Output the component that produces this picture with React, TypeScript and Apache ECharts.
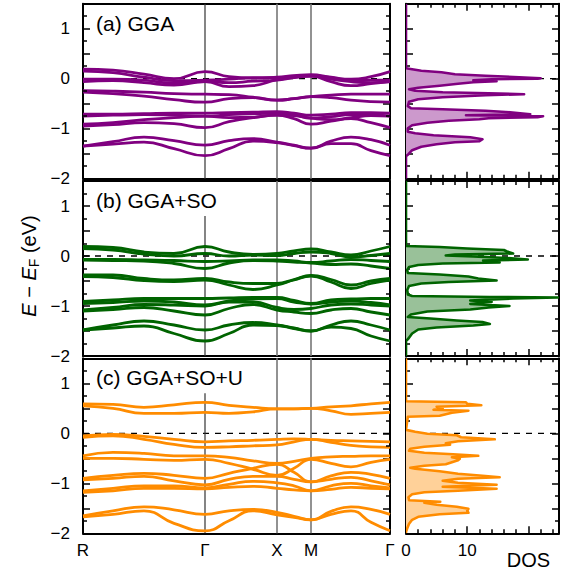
import React, { useEffect, useRef } from 'react';
import * as echarts from 'echarts';

// k-path sample positions (path length units) and high-symmetry nodes
const kSamples = [0, 30, 61, 91, 122, 146, 170, 194, 211, 228, 248, 268, 288, 307];
const kNodes = [0, 122, 194, 228, 307];
const kNodeLabels = ['R', 'Γ', 'X', 'M', 'Γ'];

// Minor tick positions on the frames
const energyMinorTicks = [-1.75, -1.25, -0.75, -0.25, 0.25, 0.75, 1.25];
const dosMinorTicks = [2, 4, 6, 8, 12, 14, 16, 18, 22, 24];

// Band energies (eV, relative to E_F) at each k sample
const bandsGGA = [
  [0.19, 0.17, 0.09, 0.0, 0.14, 0.04, 0.01, 0.03, 0.06, 0.08, 0.03, -0.01, 0.04, 0.14],
  [0.15, 0.12, 0.03, -0.04, -0.03, -0.01, 0.02, 0.02, 0.05, 0.06, 0.02, -0.04, -0.03, -0.03],
  [-0.01, -0.01, -0.03, -0.09, -0.06, -0.16, -0.14, -0.02, 0.03, 0.05, -0.06, -0.14, -0.1, -0.06],
  [-0.06, -0.04, -0.08, -0.13, -0.06, -0.08, -0.05, -0.03, 0.02, 0.05, -0.01, -0.06, -0.08, -0.06],
  [-0.24, -0.25, -0.27, -0.3, -0.31, -0.32, -0.37, -0.43, -0.4, -0.36, -0.33, -0.31, -0.31, -0.31],
  [-0.27, -0.3, -0.35, -0.42, -0.47, -0.4, -0.38, -0.43, -0.4, -0.36, -0.38, -0.43, -0.46, -0.47],
  [-0.71, -0.71, -0.7, -0.69, -0.69, -0.68, -0.67, -0.66, -0.69, -0.73, -0.71, -0.68, -0.68, -0.69],
  [-0.75, -0.73, -0.72, -0.73, -0.75, -0.72, -0.7, -0.69, -0.72, -0.79, -0.76, -0.72, -0.72, -0.75],
  [-0.91, -0.88, -0.82, -0.78, -0.75, -0.78, -0.77, -0.73, -0.74, -0.79, -0.82, -0.78, -0.74, -0.75],
  [-0.95, -0.92, -0.88, -0.9, -0.98, -0.86, -0.78, -0.73, -0.8, -0.91, -0.85, -0.8, -0.88, -0.98],
  [-1.35, -1.26, -1.17, -1.24, -1.33, -1.24, -1.2, -1.27, -1.33, -1.39, -1.25, -1.17, -1.22, -1.33],
  [-1.35, -1.31, -1.27, -1.4, -1.54, -1.4, -1.25, -1.28, -1.34, -1.39, -1.3, -1.3, -1.44, -1.54],
];

const bandsGGASO = [
  [0.19, 0.17, 0.08, 0.05, 0.19, 0.08, 0.03, 0.05, 0.1, 0.14, 0.08, 0.02, 0.1, 0.19],
  [0.15, 0.12, 0.04, 0.0, 0.05, 0.0, 0.02, 0.01, 0.05, 0.08, 0.05, -0.02, 0.01, 0.05],
  [-0.07, -0.07, -0.08, -0.09, -0.11, -0.1, -0.08, -0.08, -0.1, -0.13, -0.1, -0.07, -0.09, -0.11],
  [-0.08, -0.09, -0.1, -0.15, -0.25, -0.14, -0.09, -0.1, -0.12, -0.14, -0.17, -0.16, -0.2, -0.25],
  [-0.38, -0.38, -0.45, -0.48, -0.45, -0.52, -0.55, -0.55, -0.47, -0.39, -0.47, -0.58, -0.5, -0.45],
  [-0.41, -0.43, -0.49, -0.51, -0.48, -0.58, -0.67, -0.58, -0.48, -0.4, -0.52, -0.65, -0.55, -0.48],
  [-0.91, -0.88, -0.85, -0.85, -0.85, -0.84, -0.83, -0.83, -0.89, -0.95, -0.88, -0.86, -0.85, -0.85],
  [-0.95, -0.93, -0.9, -0.92, -0.98, -0.9, -0.86, -0.85, -0.92, -0.96, -0.92, -0.9, -0.93, -0.98],
  [-1.08, -1.03, -0.97, -0.98, -1.0, -0.92, -0.92, -1.03, -1.07, -1.05, -0.98, -0.96, -0.98, -1.0],
  [-1.1, -1.07, -1.03, -1.1, -1.18, -1.05, -0.97, -1.08, -1.12, -1.15, -1.08, -1.05, -1.12, -1.18],
  [-1.48, -1.38, -1.3, -1.38, -1.48, -1.38, -1.33, -1.38, -1.44, -1.5, -1.38, -1.3, -1.38, -1.48],
  [-1.48, -1.44, -1.4, -1.55, -1.7, -1.55, -1.38, -1.39, -1.45, -1.5, -1.42, -1.45, -1.6, -1.7],
];

const bandsGGASOU = [
  [0.59, 0.58, 0.52, 0.57, 0.62, 0.56, 0.52, 0.49, 0.49, 0.5, 0.53, 0.55, 0.59, 0.62],
  [0.55, 0.5, 0.4, 0.4, 0.42, 0.4, 0.43, 0.49, 0.49, 0.5, 0.45, 0.38, 0.4, 0.42],
  [-0.05, -0.02, -0.06, -0.12, -0.17, -0.15, -0.14, -0.12, -0.11, -0.12, -0.14, -0.15, -0.16, -0.17],
  [-0.08, -0.05, -0.12, -0.22, -0.28, -0.27, -0.25, -0.23, -0.17, -0.12, -0.18, -0.24, -0.27, -0.28],
  [-0.45, -0.38, -0.4, -0.45, -0.45, -0.48, -0.55, -0.6, -0.56, -0.5, -0.47, -0.46, -0.45, -0.45],
  [-0.5, -0.5, -0.52, -0.54, -0.52, -0.6, -0.72, -0.84, -0.7, -0.52, -0.6, -0.67, -0.58, -0.52],
  [-0.9, -0.84, -0.8, -0.84, -0.9, -0.8, -0.7, -0.62, -0.78, -0.97, -0.85, -0.78, -0.82, -0.9],
  [-0.93, -0.9, -0.86, -0.95, -1.03, -0.92, -0.86, -0.86, -0.92, -0.97, -0.92, -0.88, -0.95, -1.03],
  [-1.15, -1.1, -1.05, -1.05, -1.09, -1.02, -0.96, -0.99, -1.05, -1.15, -1.05, -1.0, -1.05, -1.09],
  [-1.18, -1.15, -1.1, -1.1, -1.11, -1.08, -1.06, -1.1, -1.13, -1.15, -1.12, -1.08, -1.1, -1.11],
  [-1.65, -1.55, -1.47, -1.53, -1.62, -1.55, -1.52, -1.58, -1.66, -1.73, -1.56, -1.47, -1.52, -1.62],
  [-1.67, -1.62, -1.55, -1.8, -1.95, -1.75, -1.55, -1.63, -1.68, -1.73, -1.62, -1.55, -1.78, -1.95],
];

// Density of states: [energy (eV), DOS (states/eV)]
const dosGGA = [
  [1.5, 0], [0.21, 0], [0.19, 1.0], [0.16, 2.5], [0.13, 5.8], [0.09, 8.0], [0.06, 13.0], [0.03, 18.5],
  [0.01, 22.0], [0.0, 21.5], [-0.01, 14.0], [-0.03, 11.0], [-0.05, 14.8], [-0.07, 11.0], [-0.1, 8.5],
  [-0.14, 5.5], [-0.18, 2.0], [-0.21, 0.5], [-0.24, 1.5], [-0.27, 6.0], [-0.29, 13.5], [-0.31, 19.3],
  [-0.33, 13.0], [-0.37, 6.0], [-0.41, 2.0], [-0.46, 0.5], [-0.55, 0.3], [-0.59, 0.8], [-0.61, 6.0],
  [-0.64, 13.0], [-0.67, 17.0], [-0.71, 20.3], [-0.73, 9.8], [-0.75, 22.4], [-0.77, 21.5], [-0.79, 13.5],
  [-0.81, 12.0], [-0.84, 7.0], [-0.88, 3.5], [-0.93, 1.0], [-0.99, 0.3], [-1.06, 0.3], [-1.09, 1.5],
  [-1.13, 4.5], [-1.17, 10.5], [-1.21, 12.5], [-1.25, 12.0], [-1.27, 8.0], [-1.31, 5.0], [-1.36, 2.5],
  [-1.43, 1.0], [-1.51, 0.4], [-1.55, 0], [-2, 0],
];

const dosGGASO = [
  [1.5, 0], [0.2, 0], [0.18, 5.5], [0.15, 10.0], [0.12, 16.0], [0.09, 16.5], [0.05, 17.5], [0.03, 8.0],
  [0.01, 6.5], [-0.01, 11.0], [-0.04, 16.5], [-0.07, 19.9], [-0.09, 12.6], [-0.13, 15.3], [-0.15, 6.0],
  [-0.18, 2.0], [-0.22, 0.5], [-0.28, 0.2], [-0.34, 0.3], [-0.37, 5.5], [-0.41, 10.2], [-0.45, 11.8],
  [-0.49, 14.8], [-0.52, 7.0], [-0.55, 2.5], [-0.6, 0.5], [-0.68, 0.2], [-0.77, 0.3], [-0.8, 1.0],
  [-0.82, 13.7], [-0.83, 24.8], [-0.85, 17.5], [-0.89, 10.5], [-0.92, 14.0], [-0.96, 10.5], [-1.0, 16.9],
  [-1.03, 13.5], [-1.07, 10.5], [-1.11, 3.5], [-1.17, 0.8], [-1.22, 0.3], [-1.25, 4.0], [-1.29, 8.3],
  [-1.32, 12.5], [-1.36, 13.7], [-1.39, 11.0], [-1.43, 5.0], [-1.47, 2.0], [-1.55, 1.0], [-1.65, 0.4],
  [-1.7, 0], [-2, 0],
];

const dosGGASOU = [
  [1.5, 0], [0.64, 0], [0.62, 9.8], [0.59, 10.0], [0.56, 12.3], [0.53, 5.0], [0.5, 6.0], [0.47, 4.5],
  [0.45, 10.2], [0.41, 7.5], [0.38, 6.5], [0.35, 5.5], [0.33, 0.3], [0.07, 0], [0.03, 1.5], [-0.01, 3.5],
  [-0.04, 8.3], [-0.08, 9.0], [-0.12, 14.5], [-0.16, 8.5], [-0.2, 6.5], [-0.23, 7.2], [-0.27, 3.0],
  [-0.31, 0.7], [-0.35, 0.5], [-0.39, 3.0], [-0.42, 7.7], [-0.45, 11.8], [-0.48, 7.5], [-0.51, 8.8],
  [-0.54, 8.5], [-0.58, 7.5], [-0.62, 6.5], [-0.65, 3.0], [-0.69, 0.7], [-0.71, 1.5], [-0.76, 5.5],
  [-0.81, 8.5], [-0.85, 12.5], [-0.88, 15.3], [-0.91, 8.5], [-0.95, 6.0], [-0.99, 8.5], [-1.03, 14.8],
  [-1.07, 6.0], [-1.11, 14.8], [-1.15, 8.5], [-1.18, 3.0], [-1.22, 1.0], [-1.28, 0.4], [-1.34, 0.5],
  [-1.37, 5.6], [-1.39, 3.0], [-1.43, 5.0], [-1.47, 8.3], [-1.51, 10.2], [-1.55, 10.0], [-1.59, 10.2],
  [-1.62, 5.5], [-1.67, 2.0], [-1.73, 1.0], [-1.81, 0.5], [-1.9, 0.2], [-1.97, 0], [-2, 0],
];

const panelTitles = ['(a) GGA', '(b) GGA+SO', '(c) GGA+SO+U'];
const panelBands = [bandsGGA, bandsGGASO, bandsGGASOU];
const panelDos = [dosGGA, dosGGASO, dosGGASOU];
const gammaLineTop = [1.5, 0.8, 0.8];

const lineColors = ['#800080', '#006400', '#ff8c00'];
const fillColors = ['#cc99cc', '#99c199', '#ffd199'];

const FONT = '"Liberation Sans", Arial, Helvetica, sans-serif';
const E_MIN = -2;
const E_MAX = 1.5;
const K_MAX = 307;
const DOS_MAX = 25;

const panelTops = [3.7, 181, 358.3];
const panelHeight = 175;
const bandWidthPx = 307;
const dosWidthPx = 153;
const MAJOR_LEN = 7;
const MINOR_LEN = 4;
const TICK_WIDTH = 1.5;

const energyLabel = (v: number) => {
  if (Math.abs(v - Math.round(v)) > 1e-6) return '';
  const r = Math.round(v);
  return r < 0 ? '\u2212' + Math.abs(r) : String(r);
};

// short inward segments on the left/right frame edges (length given in px)
function energyTickSegments(values: number[], xMax: number, widthPx: number, lenPx: number) {
  const dx = (lenPx / widthPx) * xMax;
  const segs: any[] = [];
  values.forEach((v) => {
    segs.push({ coords: [[0, v], [dx, v]] });
    segs.push({ coords: [[xMax - dx, v], [xMax, v]] });
  });
  return segs;
}

// short inward segments on the top/bottom frame edges of a DOS panel
function dosTickSegments(values: number[], lenPx: number) {
  const dy = (lenPx / panelHeight) * (E_MAX - E_MIN);
  const segs: any[] = [];
  values.forEach((v) => {
    segs.push({ coords: [[v, E_MIN], [v, E_MIN + dy]] });
    segs.push({ coords: [[v, E_MAX - dy], [v, E_MAX]] });
  });
  return segs;
}

function buildOption() {
  const grid: any[] = [];
  const xAxis: any[] = [];
  const yAxis: any[] = [];
  const series: any[] = [];
  const graphic: any[] = [];

  const frameLine = () => ({ show: true, onZero: false, lineStyle: { color: '#000', width: 2 } });
  const majorTick = () => ({
    show: true, inside: true, length: MAJOR_LEN, lineStyle: { color: '#000', width: TICK_WIDTH },
  });

  for (let p = 0; p < 3; p++) {
    const top = panelTops[p];
    const isLast = p === 2;
    const gBand = 2 * p;
    const gDos = 2 * p + 1;

    grid.push({ left: 83, top, width: bandWidthPx, height: panelHeight });
    grid.push({ left: 406, top, width: dosWidthPx, height: panelHeight });

    // band-structure panel axes
    xAxis.push({
      gridIndex: gBand, type: 'value', min: 0, max: K_MAX, position: 'bottom',
      axisLine: frameLine(), axisTick: { show: false }, splitLine: { show: false },
      axisLabel: {
        show: isLast, customValues: kNodes, margin: 9, fontSize: 17, color: '#000', fontFamily: FONT,
        formatter: (v: number) => {
          const i = kNodes.indexOf(v);
          return i >= 0 ? kNodeLabels[i] : '';
        },
      },
    });
    xAxis.push({
      gridIndex: gBand, type: 'value', min: 0, max: K_MAX, position: 'top',
      axisLine: frameLine(), axisTick: { show: false }, axisLabel: { show: false },
      splitLine: { show: false },
    });

    // DOS panel axes
    const dosX = (pos: string, labels: boolean) => ({
      gridIndex: gDos, type: 'value', min: 0, max: DOS_MAX, interval: 10, position: pos,
      axisLine: frameLine(), splitLine: { show: false }, axisTick: majorTick(),
      axisLabel: {
        show: labels, margin: 9, fontSize: 17, color: '#000', fontFamily: FONT,
        formatter: (v: number) => (v === 0 ? '0' : v === 10 ? '10' : v === 20 ? '{d|DOS}' : ''),
        rich: { d: { fontSize: 20, fontFamily: FONT, color: '#000', padding: [8, 0, 0, 0] } },
      },
    });
    xAxis.push(dosX('bottom', isLast));
    xAxis.push(dosX('top', false));

    const yAx = (g: number, pos: string, labels: boolean) => ({
      gridIndex: g, type: 'value', min: E_MIN, max: E_MAX, interval: 0.5, position: pos,
      axisLine: frameLine(), splitLine: { show: false }, axisTick: majorTick(),
      axisLabel: {
        show: labels, margin: 13, fontSize: 17, color: '#000', fontFamily: FONT, formatter: energyLabel,
      },
    });
    yAxis.push(yAx(gBand, 'left', true));
    yAxis.push(yAx(gBand, 'right', false));
    yAxis.push(yAx(gDos, 'left', false));
    yAxis.push(yAx(gDos, 'right', false));

    const bandAx = { xAxisIndex: 2 * gBand, yAxisIndex: 2 * gBand };
    const dosAx = { xAxisIndex: 2 * gDos, yAxisIndex: 2 * gDos };

    // minor frame ticks
    series.push({
      type: 'lines', coordinateSystem: 'cartesian2d', ...bandAx, silent: true, z: 5, polyline: false,
      data: energyTickSegments(energyMinorTicks, K_MAX, bandWidthPx, MINOR_LEN),
      lineStyle: { color: '#000', width: TICK_WIDTH, opacity: 1, curveness: 0 },
    });
    series.push({
      type: 'lines', coordinateSystem: 'cartesian2d', ...dosAx, silent: true, z: 1, polyline: false,
      data: [
        ...energyTickSegments(energyMinorTicks, DOS_MAX, dosWidthPx, MINOR_LEN),
        ...dosTickSegments(dosMinorTicks, MINOR_LEN),
      ],
      lineStyle: { color: '#000', width: TICK_WIDTH, opacity: 1, curveness: 0 },
    });

    // Fermi level
    series.push({
      type: 'line', ...bandAx, data: [[0, 0], [K_MAX, 0]], symbol: 'none', silent: true, z: 1,
      lineStyle: { color: '#000', width: 1.3, type: [6, 6] },
    });
    series.push({
      type: 'line', ...dosAx, data: [[0, 0], [DOS_MAX, 0]], symbol: 'none', silent: true, z: 1,
      lineStyle: { color: '#000', width: 1.3, type: [6, 6] },
    });

    // high-symmetry verticals
    [1, 2, 3].forEach((ni) => {
      const k = kNodes[ni];
      const isGamma = kNodeLabels[ni] === 'Γ';
      series.push({
        type: 'line', ...bandAx, symbol: 'none', silent: true, z: 1,
        data: [[k, E_MIN], [k, isGamma ? gammaLineTop[p] : E_MAX]],
        lineStyle: { color: isGamma ? '#333' : '#777', width: isGamma ? 1.2 : 1.6 },
      });
    });

    // bands
    panelBands[p].forEach((band) => {
      series.push({
        type: 'line', ...bandAx, symbol: 'none', silent: true, z: 2, smooth: 0.5,
        data: kSamples.map((k, i) => [k, band[i]]),
        lineStyle: { color: lineColors[p], width: 2.8 },
      });
    });

    // DOS filled outline
    const dosData = panelDos[p].map(([e, d]) => [d, e]);
    series.push({
      type: 'custom', ...dosAx, z: 2, silent: true, clip: true,
      data: dosData,
      encode: { x: 0, y: 1 },
      renderItem: (params: any, api: any) => {
        if (params.dataIndex !== 0) return null;
        const pts = dosData.map((d) => api.coord(d));
        return {
          type: 'group',
          children: [
            { type: 'polygon', shape: { points: pts }, style: { fill: fillColors[p], stroke: 'none' } },
            {
              type: 'polyline', shape: { points: pts },
              style: { fill: 'none', stroke: lineColors[p], lineWidth: 2.6, lineJoin: 'round' },
            },
          ],
        };
      },
    });

    graphic.push({
      type: 'text', x: 96, y: top + 19.5, z: 10,
      style: {
        text: panelTitles[p], font: `21px ${FONT}`, fill: '#000',
        textAlign: 'left', textVerticalAlign: 'middle',
      },
    });
  }

  graphic.push({
    type: 'text', x: 29, y: 266, rotation: Math.PI / 2, z: 10,
    style: {
      text: '{i|E} \u2212 {i|E}{s|F} (eV)',
      font: `20px ${FONT}`, fill: '#000', textAlign: 'center', textVerticalAlign: 'middle',
      rich: {
        i: { fontStyle: 'italic', fontSize: 20, fontFamily: FONT, fill: '#000' },
        s: { fontSize: 14, fontFamily: FONT, fill: '#000', padding: [10, 0, 0, 0] },
      },
    },
  });

  return { animation: false, backgroundColor: '#fff', grid, xAxis, yAxis, series, graphic };
}

export default function App() {
  const ref = useRef<HTMLDivElement>(null);
  useEffect(() => {
    if (!ref.current) return;
    const chart = echarts.init(ref.current, undefined, { renderer: 'svg' });
    chart.setOption(buildOption() as any);
    return () => chart.dispose();
  }, []);
  return <div ref={ref} style={{ position: 'fixed', left: 0, top: 0, width: 570, height: 571 }} />;
}
